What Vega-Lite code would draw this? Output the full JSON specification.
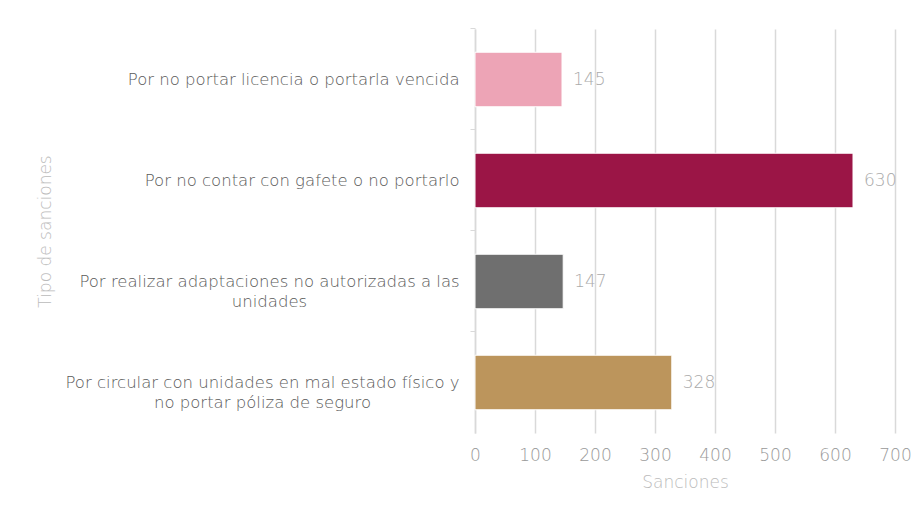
{
  "$schema": "https://vega.github.io/schema/vega-lite/v6.json",
  "autosize": "none",
  "width": 420,
  "height": 404,
  "padding": {"left": 475, "top": 29, "right": 29, "bottom": 82},
  "background": "#ffffff",
  "config": {
    "font": "DejaVu Sans",
    "view": {"stroke": null}
  },
  "data": {
    "values": [
      {"tipo": "Por no portar licencia o portarla vencida", "sanciones": 145, "color": "#EDA4B6"},
      {"tipo": "Por no contar con gafete o no portarlo", "sanciones": 630, "color": "#9B1546"},
      {"tipo": "Por realizar adaptaciones no autorizadas a las|unidades", "sanciones": 147, "color": "#6F6F6F"},
      {"tipo": "Por circular con unidades en mal estado físico y|no portar póliza de seguro", "sanciones": 328, "color": "#BC955C"}
    ]
  },
  "encoding": {
    "y": {
      "field": "tipo",
      "type": "nominal",
      "sort": null,
      "scale": {"paddingInner": 0.46, "paddingOuter": 0.23},
      "axis": {
        "title": "Tipo de sanciones",
        "titleX": -421,
        "titleFont": "DejaVu Sans",
        "titleFontWeight": 200,
        "titleFontSize": 17,
        "titleColor": "#bbbbbb",
        "labelExpr": "split(datum.label, '|')",
        "labelFont": "DejaVu Sans",
        "labelFontWeight": 200,
        "labelFontSize": 16.5,
        "labelColor": "#5a5a5a",
        "labelLineHeight": 20,
        "labelAlign": {
          "condition": {"test": "indexof(datum.value, '|') >= 0", "value": "center"},
          "value": "right"
        },
        "labelPadding": {
          "condition": [
            {"test": "indexof(datum.value, 'realizar') >= 0", "value": 201},
            {"test": "indexof(datum.value, 'circular') >= 0", "value": 208}
          ],
          "value": 11
        },
        "labelLimit": 460,
        "bandPosition": -0.426,
        "ticks": true,
        "tickSize": 5,
        "tickColor": "#d9d9d9",
        "domainColor": "#d9d9d9",
        "domainWidth": 1.5,
        "grid": false
      }
    },
    "x": {
      "field": "sanciones",
      "type": "quantitative",
      "scale": {"domain": [0, 700]},
      "axis": {
        "title": "Sanciones",
        "titleFont": "DejaVu Sans",
        "titleFontWeight": 200,
        "titleFontSize": 17,
        "titleColor": "#bbbbbb",
        "titlePadding": 11,
        "values": [0, 100, 200, 300, 400, 500, 600, 700],
        "labelFont": "DejaVu Sans",
        "labelFontWeight": 200,
        "labelFontSize": 17,
        "labelColor": "#999999",
        "labelPadding": 14,
        "labelFlush": false,
        "ticks": false,
        "domain": false,
        "grid": true,
        "gridColor": "#d9d9d9",
        "gridWidth": 1.5
      }
    }
  },
  "layer": [
    {
      "mark": {"type": "bar", "stroke": "#ffffff", "strokeWidth": 1},
      "encoding": {
        "color": {"field": "color", "type": "nominal", "scale": null, "legend": null}
      }
    },
    {
      "mark": {"type": "text", "align": "left", "baseline": "middle", "dx": 11, "font": "DejaVu Sans", "fontWeight": 200, "fontSize": 17, "color": "#aaaaaa"},
      "encoding": {
        "text": {"field": "sanciones", "type": "quantitative"}
      }
    }
  ]
}
